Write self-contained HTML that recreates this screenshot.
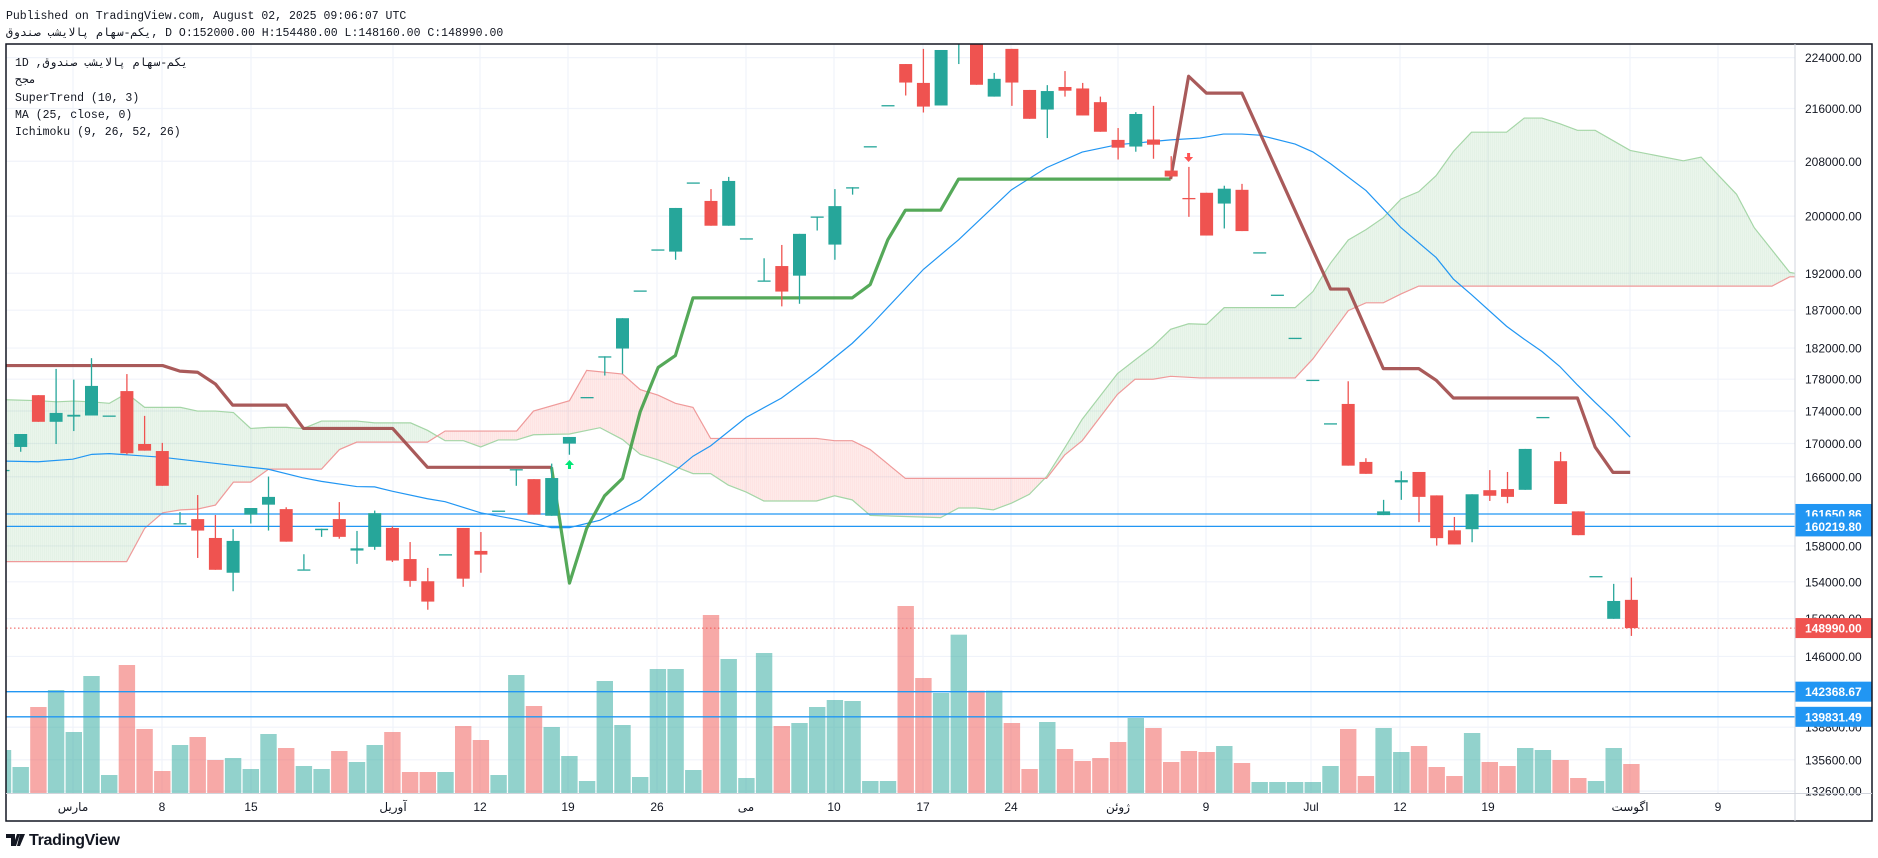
<!DOCTYPE html>
<html><head><meta charset="utf-8">
<style>
html,body{margin:0;padding:0;background:#fff;width:1878px;height:858px;overflow:hidden}
svg{display:block}
.m{font-family:"Liberation Mono","DejaVu Sans Mono","Noto Sans CJK SC",monospace;font-size:11.5px;fill:#131722}
.ax{font-family:"Liberation Sans","DejaVu Sans",sans-serif;font-size:12px;fill:#131722}
</style></head><body>
<svg id="s" width="1878" height="858" xmlns="http://www.w3.org/2000/svg">
<defs><clipPath id="c"><rect x="6" y="44" width="1789" height="777"/></clipPath></defs>
<text class="m" x="6" y="19">Published on TradingView.com, August 02, 2025 09:06:07 UTC</text>
<text class="m" x="6" y="36" style="unicode-bidi:bidi-override;direction:ltr">قودنص بشیالاپ ماهس-مکی, D O:152000.00 H:154480.00 L:148160.00 C:148990.00</text>
<g id="grid"></g>
<g id="cloud" clip-path="url(#c)"></g>
<g id="vol" clip-path="url(#c)"></g>
<g id="hl"></g>
<g id="lines" clip-path="url(#c)"></g>
<g id="cand" clip-path="url(#c)"></g>
<text class="m" x="15" y="66" style="unicode-bidi:bidi-override;direction:ltr">1D ,قودنص بشیالاپ ماهس-مکي</text>
<text class="m" x="15" y="83">مجح</text>
<text class="m" x="15" y="101">SuperTrend (10, 3)</text>
<text class="m" x="15" y="118">MA (25, close, 0)</text>
<text class="m" x="15" y="135">Ichimoku (9, 26, 52, 26)</text>
<g id="axis"></g>
<rect x="6" y="44" width="1866" height="777" fill="none" stroke="#131722" stroke-width="1.5"/>
<line x1="1795" y1="44" x2="1795" y2="821" stroke="#d1d4dc"/>
<line x1="6" y1="793.5" x2="1872" y2="793.5" stroke="#d1d4dc"/>
<g transform="translate(6,830)">
<path d="M0 4h9v12h-4v-8h-5z M11 4h3l-4 12h-3z M14 4h5l-5 12h-3z" fill="#131722"/>
<text x="23" y="15" style="font-family:'Liberation Sans',sans-serif;font-size:16px;font-weight:bold;fill:#131722;letter-spacing:-0.3px">TradingView</text>
</g>
</svg>
<script>
const NS="http://www.w3.org/2000/svg";
function el(p,t,a){const e=document.createElementNS(NS,t);for(const k in a)e.setAttribute(k,a[k]);document.getElementById(p).appendChild(e);return e;}
function Y(p){return 57.6+1399*Math.log(224000/p);}
function z(n,x,y){if(n==6)return[x/2.613,40+y/2.703];if(n==7)return[600+x/2.613,40+y/2.703];return[1200+x/2.313,40+y/2.69];}
function zy(n,y){return n==8?40+y/2.69:40+y/2.703;}
// grid + axis
const prices=[224000,216000,208000,200000,192000,187000,182000,178000,174000,170000,166000,158000,154000,150000,146000,138800,135600,132600];
prices.forEach(p=>{const y=Y(p);el('grid','line',{x1:6,x2:1795,y1:y,y2:y,stroke:'#f0f3fa','stroke-width':1.2});
const t=el('axis','text',{x:1805,y:y+4.5,class:'ax'});t.textContent=p.toFixed(2);});
const tl=[[73,'مارس'],[162,'8'],[251,'15'],[393,'آوریل'],[480,'12'],[568,'19'],[657,'26'],[746,'می'],[834,'10'],[923,'17'],[1011,'24'],[1118,'ژوئن'],[1206,'9'],[1311,'Jul'],[1400,'12'],[1488,'19'],[1630,'اگوست'],[1718,'9']];
tl.forEach(([x,s])=>{el('grid','line',{x1:x,x2:x,y1:44,y2:793,stroke:'#f0f3fa','stroke-width':1.2});
const t=el('axis','text',{x:x,y:811,class:'ax','text-anchor':'middle'});t.style.fontFamily='"Liberation Sans","DejaVu Sans",sans-serif';t.textContent=s;});
// cloud
const A=[[6,0,972],[6,100,975],[6,148,978],[6,192,976],[6,238,978],[6,286,982],[6,331,955],[6,378,993],[6,472,993],[6,516,1003],[6,563,1003],[6,610,1007],[6,655,1050],[6,702,1047],[6,749,1047],[6,793,1050],[6,840,1030],[6,932,1030],[6,979,1035],[6,1073,1035],[6,1117,1055],[6,1163,1083],[6,1211,1083],[6,1256,1100],[6,1302,1081],[6,1350,1081],[6,1394,1067],[6,1488,1065],[6,1568,1048],
[7,59,1080],[7,105,1120],[7,152,1135],[7,243,1172],[7,289,1172],[7,335,1203],[7,382,1222],[7,428,1246],[7,566,1246],[7,613,1232],[7,659,1243],[7,706,1285],[7,890,1291],[7,937,1265],[7,983,1265],[7,1028,1270],[7,1075,1252],[7,1122,1228],[7,1167,1180],[7,1214,1103],[7,1260,1025],[7,1352,902],[7,1398,865],[7,1445,828],[7,1491,782],[7,1538,767],
[8,15,765],[8,56,720],[8,220,720],[8,261,677],[8,302,600],[8,343,538],[8,384,510],[8,424,478],[8,465,428],[8,506,408],[8,546,365],[8,586,300],[8,628,248],[8,709,248],[8,750,210],[8,791,210],[8,832,225],[8,873,243],[8,914,243],[8,995,297],[8,1118,325],[8,1159,315],[8,1200,365],[8,1241,415],[8,1282,505],[8,1323,565],[8,1364,625],[8,1378,628]].map(a=>z(...a));
const B=[[6,0,1410],[6,331,1410],[6,378,1320],[6,425,1278],[6,472,1270],[6,516,1268],[6,563,1257],[6,610,1195],[6,655,1195],[6,702,1160],[6,840,1160],[6,887,1107],[6,932,1087],[6,1117,1087],[6,1163,1057],[6,1350,1057],[6,1394,1003],[6,1488,975],[6,1533,893],
[7,59,903],[7,105,945],[7,152,960],[7,197,982],[7,243,993],[7,289,1077],[7,566,1077],[7,613,1083],[7,659,1083],[7,706,1107],[7,798,1185],[7,1167,1185],[7,1214,1122],[7,1260,1083],[7,1352,958],[7,1398,917],[7,1445,917],[7,1491,909],
[8,0,909],[8,220,909],[8,261,858],[8,302,793],[8,343,728],[8,384,707],[8,424,707],[8,465,683],[8,506,662],[8,1323,662],[8,1364,637],[8,1378,637]].map(a=>z(...a));
function ip(P,x){if(x<=P[0][0])return P[0][1];for(let i=1;i<P.length;i++){if(x<=P[i][0]){const a=P[i-1],b=P[i];return a[1]+(b[1]-a[1])*(x-a[0])/((b[0]-a[0])||1);}}return P[P.length-1][1];}
for(let x=0;x<1796;x+=2){const a0=ip(A,x),b0=ip(B,x),a1=ip(A,x+2),b1=ip(B,x+2);
const g=(a0+a1)<(b0+b1);el('cloud','polygon',{points:`${x},${a0} ${x+2.3},${a1} ${x+2.3},${b1} ${x},${b0}`,fill:g?'rgba(67,160,71,0.11)':'rgba(244,67,54,0.11)'});}
el('cloud','polyline',{points:A.map(p=>p.join(',')).join(' '),fill:'none',stroke:'#a5d6a7','stroke-width':1.2});
el('cloud','polyline',{points:B.map(p=>p.join(',')).join(' '),fill:'none',stroke:'#ef9a9a','stroke-width':1.2});
// volume
const X=n=>20.7+17.7*n;
const v9="g450,g501,r321,g270,g396,g228,g525,r195,r387,r513,g435,r411,r480,g474,g507,g402,r444,g498,g507,r453,g486,g435,r396,r516,r516,g516,r378,r420,g525,g225,r318,g381,g468,g543,g243,g375,g531,g207,g207,g510,r45,g177,g534,g159,r378,g369,g321,g300,g303,g543,g543,r18,r234,g279".split(',');
const v10="g104,r272,g272,r369,r507,g366,r447,r483,r474,r426,g354,r384,r486,r453,r456,g438,r489,g546,g546,g546,g546,g498,r387,r528,g384,g456,r438,r501,r528,g399,r486,r498,g444,g450,r480,r534,g543,g444,r492".split(',');
const vols=v9.concat(v10);
vols.forEach((s,i)=>{const n=i-1;const top=600+(+s.slice(1))/3;el('vol','rect',{x:X(n)-8.2,y:top,width:16.4,height:793-top,fill:s[0]=='g'?'rgba(38,166,154,0.5)':'rgba(239,83,80,0.5)'});});
// horizontal lines
[[161650.86,'161650.86'],[160219.80,'160219.80'],[142368.67,'142368.67'],[139831.49,'139831.49']].forEach(([p,s])=>{const y=Y(p);
el('hl','line',{x1:6,x2:1795,y1:y,y2:y,stroke:'#2196f3','stroke-width':1.3});
el('axis','rect',{x:1795,y:y-10,width:77,height:20,fill:'#2196f3'});
const t=el('axis','text',{x:1805,y:y+4.5,class:'ax'});t.style.fill='#fff';t.style.fontWeight='bold';t.textContent=s;});
{const y=Y(148990);el('hl','line',{x1:6,x2:1795,y1:y,y2:y,stroke:'#ef5350','stroke-width':1,'stroke-dasharray':'1.5,2.5'});
el('axis','rect',{x:1795,y:y-10,width:77,height:20,fill:'#ef5350'});
const t=el('axis','text',{x:1805,y:y+4.5,class:'ax'});t.style.fill='#fff';t.style.fontWeight='bold';t.textContent='148990.00';}
// MA
const MA=[[6,0,1138],[6,100,1140],[6,190,1133],[6,240,1120],[6,286,1118],[6,425,1128],[6,610,1150],[6,700,1160],[6,790,1183],[6,840,1193],[6,932,1207],[6,979,1208],[6,1026,1220],[6,1117,1240],[6,1163,1248],[6,1256,1278],[6,1350,1296],[6,1441,1318],[6,1488,1318],[6,1568,1298],
[7,105,1243],[7,243,1125],[7,289,1097],[7,382,1020],[7,474,968],[7,566,898],[7,659,820],[7,706,773],[7,845,620],[7,937,540],[7,1075,405],[7,1167,345],[7,1260,303],[7,1352,283],[7,1491,270],[7,1568,265],
[8,54,253],[8,97,253],[8,138,256],[8,220,280],[8,261,301],[8,302,333],[8,384,405],[8,465,505],[8,546,585],[8,586,643],[8,628,685],[8,709,770],[8,750,805],[8,791,838],[8,832,878],[8,873,928],[8,914,975],[8,955,1020],[8,995,1068]].map(a=>z(...a));
el('lines','polyline',{points:MA.map(p=>p.join(',')).join(' '),fill:'none',stroke:'#2196f3','stroke-width':1.2});
// supertrend
const R1=[[6,0,880],[6,425,880],[6,470,895],[6,516,898],[6,563,930],[6,608,987],[6,748,987],[6,793,1050],[6,1026,1050],[6,1117,1155],[6,1441,1155]].map(a=>z(...a));
const G=[[6,1441,1155],[6,1488,1468],[6,1533,1320],[7,12,1232],[7,59,1185],[7,105,1005],[7,152,885],[7,197,853],[7,243,697],[7,659,697],[7,706,661],[7,752,540],[7,798,460],[7,890,460],[7,937,376],[7,1491,376]].map(a=>z(...a));
const R2=[[7,1491,376],[7,1538,98],[8,15,143],[8,97,143],[8,302,670],[8,343,670],[8,424,884],[8,506,884],[8,546,915],[8,586,963],[8,873,963],[8,914,1095],[8,955,1163],[8,995,1163]].map(a=>z(...a));
[[R1,'rgba(160,72,72,0.9)'],[G,'rgba(67,160,71,0.9)'],[R2,'rgba(160,72,72,0.9)']].forEach(([P,c])=>el('lines','polyline',{points:P.map(p=>p.join(',')).join(' '),fill:'none',stroke:c,'stroke-width':3.2,'stroke-linejoin':'round'}));
el('lines','path',{d:'M569.5 460 l-4.5 5 h3 v4 h3 v-4 h3 z',fill:'#00e676'});
el('lines','path',{d:'M1188.6 162 l-4.5 -5 h3 v-4 h3 v4 h3 z',fill:'#ff5252'});
// candles
const C6=[[-1,'g',1162,1162,1162,1162],[0,'g',1065,1100,1065,1113],[1,'r',960,1032,960,1032],[2,'g',1008,1032,889,1092],[3,'g',1013,1018,918,1057],[4,'g',935,1015,860,1015],[5,'g',1015,1015,1015,1015],[6,'r',949,1117,903,1120],[7,'r',1092,1110,1016,1110],[8,'r',1111,1205,1089,1205],[9,'g',1306,1306,1276,1306],[10,'r',1295,1326,1230,1400],[11,'r',1346,1432,1284,1432],[12,'g',1354,1440,1322,1490],[13,'g',1265,1283,1265,1307],[14,'g',1235,1256,1180,1326],[15,'r',1268,1356,1263,1356],[16,'g',1431,1431,1390,1431],[17,'g',1321,1325,1321,1343],[18,'r',1295,1343,1249,1348],[19,'g',1374,1380,1327,1416],[20,'g',1279,1370,1272,1378],[21,'r',1319,1407,1315,1411],[22,'r',1403,1462,1357,1478],[23,'r',1463,1518,1427,1540],[24,'g',1390,1390,1390,1390],[25,'r',1319,1456,1319,1478],[26,'r',1381,1391,1330,1440],[27,'g',1272,1272,1272,1272],[28,'g',1160,1160,1160,1205],[29,'r',1187,1283,1187,1283],[30,'g',1184,1286,1145,1286],[31,'g',1073,1091,1073,1121],[32,'g',965,965,965,965]];
const C7=[[33,'g',855,855,855,907],[34,'g',752,834,752,902],[35,'g',677,677,677,677],[36,'g',566,566,566,566],[37,'g',454,572,454,594],[38,'g',385,385,385,385],[39,'r',435,502,403,502],[40,'g',381,502,370,502],[41,'g',536,536,536,536],[42,'g',650,650,590,650],[43,'r',611,680,554,720],[44,'g',524,637,524,713],[45,'g',477,477,477,515],[46,'g',449,553,403,594],[47,'g',398,398,398,418],[48,'g',287,287,287,287],[49,'g',176,176,176,176],[50,'r',65,115,65,150],[51,'r',116,180,24,196],[52,'g',27,177,27,177],[53,'g',-40,0,-40,65],[54,'r',-20,121,-20,121],[55,'g',105,153,89,153],[56,'r',24,115,24,178],[57,'r',135,213,135,213],[58,'g',138,188,122,265],[59,'r',127,137,84,153],[60,'r',131,204,116,204],[61,'r',168,248,153,248],[62,'r',270,291,238,323],[63,'g',200,288,195,302],[64,'r',269,283,178,321],[65,'r',353,369,314,369],[66,'r',427,427,343,478]];
const C8=[[67,'r',411,526,411,526],[68,'g',400,440,392,507],[69,'r',403,514,387,514],[70,'g',571,571,571,571],[71,'g',685,685,685,685],[72,'g',801,801,801,801],[73,'g',914,914,914,914],[74,'g',1031,1031,1031,1031],[75,'r',979,1145,918,1145],[76,'r',1135,1167,1125,1167],[77,'g',1268,1278,1237,1278],[78,'g',1184,1190,1160,1237],[79,'r',1162,1229,1162,1297],[80,'r',1225,1340,1225,1360],[81,'r',1319,1357,1283,1357],[82,'g',1222,1316,1222,1351],[83,'r',1211,1226,1157,1240],[84,'r',1208,1229,1162,1246],[85,'g',1100,1210,1100,1210],[86,'g',1014,1014,1014,1014],[87,'r',1133,1248,1108,1248],[88,'r',1268,1332,1268,1332],[89,'g',1442,1442,1442,1442],[90,'g',1509,1557,1463,1557],[91,'r',1506,1582,1446,1603]];
[[6,C6],[7,C7],[8,C8]].forEach(([zn,L])=>L.forEach(([n,c,bt,bb,wt,wb])=>{const x=X(n),col=c=='g'?'#26a69a':'#ef5350';
const t=zy(zn,bt),b=zy(zn,bb),w1=zy(zn,wt),w2=zy(zn,wb);
if(w2-w1>0.5)el('cand','line',{x1:x,x2:x,y1:w1,y2:w2,stroke:col,'stroke-width':1.3});
el('cand','rect',{x:x-6.5,y:t,width:13,height:Math.max(b-t,1.3),fill:col});}));
</script>
</body></html>
